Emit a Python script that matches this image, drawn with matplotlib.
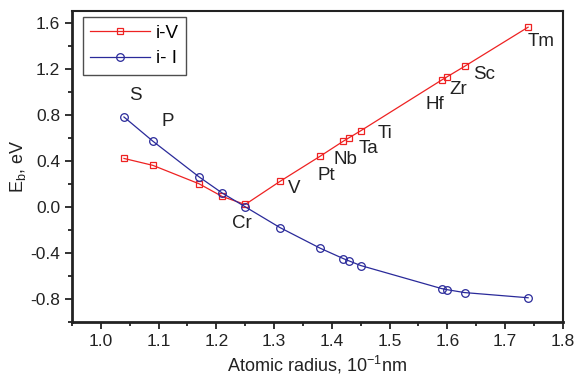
import matplotlib
matplotlib.use("Agg")
import matplotlib.pyplot as plt
from matplotlib.ticker import MultipleLocator

plt.rcParams['font.family'] = ['Liberation Sans', 'DejaVu Sans']
plt.rcParams['mathtext.fontset'] = 'custom'
plt.rcParams['mathtext.rm'] = 'Liberation Sans'
plt.rcParams['mathtext.it'] = 'Liberation Sans'
plt.rcParams['mathtext.default'] = 'regular'

radius = [1.04, 1.09, 1.17, 1.21, 1.25, 1.31, 1.38, 1.42, 1.43, 1.45, 1.59, 1.60, 1.63, 1.74]
e_iV = [0.42, 0.36, 0.20, 0.09, 0.02, 0.22, 0.44, 0.57, 0.60, 0.66, 1.10, 1.13, 1.22, 1.56]
e_iI = [0.78, 0.57, 0.26, 0.12, 0.00, -0.18, -0.36, -0.45, -0.47, -0.51, -0.71, -0.72, -0.745, -0.79]

elements = ["S", "P", "Cr", "V", "Pt", "Nb", "Ta", "Ti", "Hf", "Zr", "Sc", "Tm"]
label_x = [1.06, 1.115, 1.245, 1.335, 1.39, 1.424, 1.464, 1.492, 1.579, 1.619, 1.663, 1.763]
label_y = [0.97, 0.74, -0.145, 0.16, 0.276, 0.41, 0.51, 0.64, 0.89, 1.02, 1.145, 1.435]

fig = plt.figure(figsize=(5.76, 3.81), dpi=100)
ax = fig.add_axes([0.125, 0.155, 0.852, 0.816])

ax.plot(radius, e_iV, color='#ee2222', lw=0.9, marker='s', ms=5, mfc='none',
        mec='#ee2222', mew=0.9, label='i-V')
ax.plot(radius, e_iI, color='#2a2a9a', lw=0.9, marker='o', ms=5.5, mfc='none',
        mec='#2a2a9a', mew=0.9, label='i- I')

for name, lx, ly in zip(elements, label_x, label_y):
    ax.text(lx, ly, name, fontsize=13.5, ha='center', va='center', color='#222222')

ax.set_xlim(0.95, 1.8)
ax.set_ylim(-1.0, 1.7)
ax.xaxis.set_major_locator(MultipleLocator(0.1))
ax.xaxis.set_minor_locator(MultipleLocator(0.05))
ax.yaxis.set_minor_locator(MultipleLocator(0.2))
ax.set_yticks([-0.8, -0.4, 0.0, 0.4, 0.8, 1.2, 1.6])
ax.set_yticklabels(['-0.8', '-0.4', '0.0', '0.4', '0.8', '1.2', '1.6'])
ax.tick_params(which='major', direction='out', length=5, width=1.3, labelsize=12.5, colors='#222222')
ax.tick_params(which='minor', direction='out', length=3, width=1.3, colors='#222222')
for s in ax.spines.values():
    s.set_linewidth(1.5)
    s.set_color('#222222')
ax.spines['left'].set_linewidth(2)
ax.spines['bottom'].set_linewidth(2)

ax.set_xlabel('Atomic radius, 10$^{-1}$nm', fontsize=13, color='#222222', labelpad=4)
ax.set_ylabel('E$_{b}$, eV', fontsize=13, color='#222222', labelpad=2)

leg = ax.legend(loc='upper left', fontsize=13.5, frameon=True, fancybox=False,
                edgecolor='#222222', handlelength=3.2, borderpad=0.4,
                labelspacing=0.45, handletextpad=0.3, borderaxespad=0,
                bbox_to_anchor=(0.022, 0.98))
leg.get_frame().set_linewidth(1.0)

fig.savefig('out.png', dpi=100)
